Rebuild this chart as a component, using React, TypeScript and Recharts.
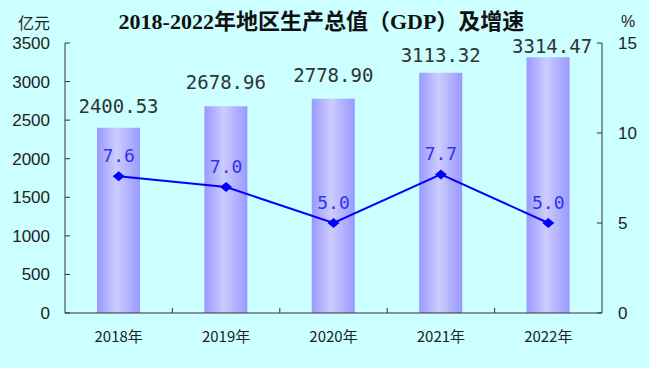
import React from "react"
import { ComposedChart, Bar, Line, XAxis, YAxis, LabelList } from "recharts"

const years = ["2018年", "2019年", "2020年", "2021年", "2022年"]
const gdp = [2400.53, 2678.96, 2778.9, 3113.32, 3314.47]
const growth = [7.6, 7.0, 5.0, 7.7, 5.0]
const leftTicks = [0, 500, 1000, 1500, 2000, 2500, 3000, 3500]
const rightTicks = [0, 5, 10, 15]

// gap between bar top and its value label (the original places them by hand)
const barLabelGaps = [15, 17, 17, 11, 4]
const barLabelShift = [0, 0, 0, 0, 4]

const W = 649
const H = 368
const LEFT_W = 65
const RIGHT_W = 47
const BAND = (W - LEFT_W - RIGHT_W) / years.length

const data = years.map((year, i) => ({ year, gdp: gdp[i], growth: growth[i] }))

const axisColor = "#333"
const monoFont = "'DejaVu Sans Mono', monospace"

function LeftTick({ x, y, payload }: any) {
  return (
    <g>
      <line x1={x} x2={x + 5} y1={y} y2={y} stroke={axisColor} />
      <text x={x - 15} y={y} dy="0.35em" textAnchor="end" fontSize={17} fill="#222" fontFamily="'Liberation Sans', sans-serif">
        {payload.value}
      </text>
    </g>
  )
}

function RightTick({ x, y, payload }: any) {
  return (
    <g>
      <line x1={x - 5} x2={x} y1={y} y2={y} stroke={axisColor} />
      <text x={x + 16} y={y} dy="0.35em" textAnchor="start" fontSize={17} fill="#222" fontFamily="'Liberation Sans', sans-serif">
        {payload.value}
      </text>
    </g>
  )
}

function BottomTick({ x, y, payload, index }: any) {
  return (
    <g>
      {index < years.length - 1 && (
        <line x1={x + BAND / 2} x2={x + BAND / 2} y1={y} y2={y - 5} stroke={axisColor} />
      )}
      <text x={x} y={y + 24} dy="0.35em" textAnchor="middle" fontSize={15} fill="#222" fontFamily="'Noto Sans CJK SC', sans-serif">
        {payload.value}
      </text>
    </g>
  )
}

function BarLabel({ x, y, width, value, index }: any) {
  return (
    <text
      x={x + width / 2 + barLabelShift[index]}
      y={y - barLabelGaps[index]}
      textAnchor="middle"
      fontSize={19}
      fontFamily={monoFont}
      fill="#333"
    >
      {Number(value).toFixed(2)}
    </text>
  )
}

function Diamond({ cx, cy }: any) {
  return <polygon points={`${cx - 6},${cy} ${cx},${cy - 5} ${cx + 6},${cy} ${cx},${cy + 5}`} fill="#0000ff" />
}

export default function App() {
  return (
    <div style={{ position: "absolute", left: 0, top: 0, width: W, height: H, background: "#ccffff" }}>
      <div
        style={{
          position: "absolute",
          left: 0,
          width: W - 6,
          top: 8,
          textAlign: "center",
          fontSize: 22,
          fontWeight: "bold",
          fontFamily: "'Liberation Serif', 'Noto Sans CJK SC', serif",
          color: "#111",
          lineHeight: "28px",
        }}
      >
        2018-2022年地区生产总值（GDP）及增速
      </div>
      <div style={{ position: "absolute", left: 18, top: 10, fontSize: 16, fontFamily: "'Noto Sans CJK SC', sans-serif", color: "#222", lineHeight: "24px" }}>
        亿元
      </div>
      <div style={{ position: "absolute", left: 621, top: 10, fontSize: 16, fontFamily: "'Liberation Sans', sans-serif", color: "#222", lineHeight: "24px" }}>
        %
      </div>
      <ComposedChart width={W} height={H} data={data} margin={{ top: 43, right: 0, bottom: 0, left: 0 }}>
        <defs>
          <linearGradient id="barFill" x1="0" y1="0" x2="1" y2="0">
            <stop offset="0%" stopColor="#9999ff" />
            <stop offset="45%" stopColor="#ccccff" />
            <stop offset="100%" stopColor="#9999ff" />
          </linearGradient>
        </defs>
        <XAxis
          dataKey="year"
          height={H - 313}
          axisLine={{ stroke: axisColor }}
          tickLine={false}
          tickSize={0}
          tickMargin={0}
          tick={<BottomTick />}
          interval={0}
        />
        <YAxis
          yAxisId="left"
          width={LEFT_W}
          domain={[0, 3500]}
          ticks={leftTicks}
          axisLine={{ stroke: axisColor }}
          tickLine={false}
          tickSize={0}
          tickMargin={0}
          tick={<LeftTick />}
          interval={0}
        />
        <YAxis
          yAxisId="right"
          orientation="right"
          width={RIGHT_W}
          domain={[0, 15]}
          ticks={rightTicks}
          axisLine={{ stroke: axisColor }}
          tickLine={false}
          tickSize={0}
          tickMargin={0}
          tick={<RightTick />}
          interval={0}
        />
        <Bar yAxisId="left" dataKey="gdp" barSize={43} fill="url(#barFill)" isAnimationActive={false}>
          <LabelList dataKey="gdp" content={<BarLabel />} />
        </Bar>
        <Line
          yAxisId="right"
          dataKey="growth"
          stroke="#0000ff"
          strokeWidth={2}
          dot={<Diamond />}
          activeDot={false}
          isAnimationActive={false}
        >
          <LabelList
            dataKey="growth"
            position="top"
            offset={14}
            formatter={(v: any) => Number(v).toFixed(1)}
            style={{ fontSize: 18, fontFamily: monoFont, fill: "#3333ee" }}
          />
        </Line>
      </ComposedChart>
    </div>
  )
}
